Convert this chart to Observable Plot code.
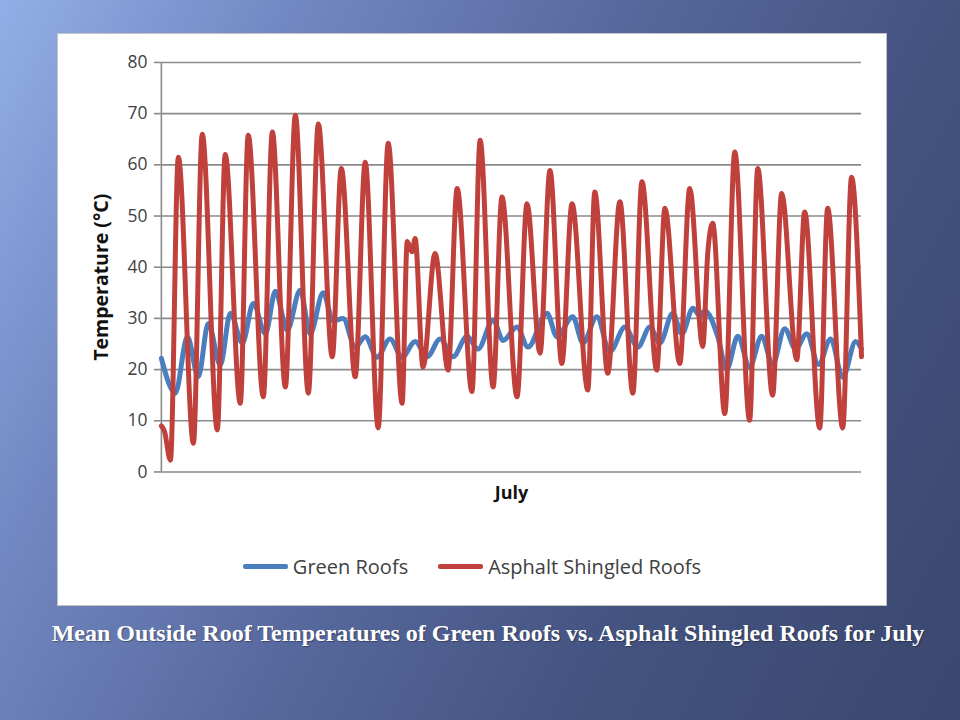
<!DOCTYPE html>
<html>
<head>
<meta charset="utf-8">
<script src="https://cdn.jsdelivr.net/npm/d3@7"></script>
<script src="https://cdn.jsdelivr.net/npm/@observablehq/plot@0.6"></script>
<style>
  html, body { margin: 0; padding: 0; }
  body {
    width: 960px; height: 720px; overflow: hidden; position: relative;
    background: linear-gradient(118deg, #93aee6 0%, #7288c2 22%, #56679c 48%, #43527f 72%, #3a476f 100%);
    font-family: "Open Sans", "Liberation Sans", sans-serif;
  }
  #box {
    position: absolute; left: 57px; top: 33px; width: 828px; height: 571px;
    background: #ffffff; border: 1px solid #c4c4c4;
  }
  #chart { position: absolute; left: -1px; top: -1px; }
  #legend {
    position: absolute; left: 0; top: 518px; width: 828px; height: 28px;
    display: flex; justify-content: center; align-items: center;
    font-family: "Open Sans", sans-serif; font-size: 20px; color: #404040;
  }
  .item { display: flex; align-items: center; margin: 0 15px; }
  .sw { width: 45px; height: 5px; border-radius: 2px; margin-right: 5px; }
  #caption {
    position: absolute; left: 0; top: 620px; width: 976px; text-align: center;
    font-family: "Liberation Serif", "Times New Roman", serif; font-weight: bold;
    font-size: 24px; color: #ffffff; text-shadow: 1px 1px 1px rgba(0,0,0,0.35);
  }
</style>
</head>
<body>
<div id="box"><div id="chart"></div><div id="legend"></div></div>
<div id="caption"></div>
<script>
// ---- data (x in days since start of record, y in °C) ----
const yTicks = [0, 10, 20, 30, 40, 50, 60, 70, 80];
const xLabel = "July";
const yLabel = "Temperature (°C)";
const seriesNames = ["Green Roofs", "Asphalt Shingled Roofs"];
const seriesColors = ["#4a7ebf", "#c0403c"];
const captionText = "Mean Outside Roof Temperatures of Green Roofs vs. Asphalt Shingled Roofs for July";

const asphaltDay = [0.00, 0.13, 0.39, 0.73, 1.38, 1.76, 2.41, 2.75, 3.40, 3.74, 4.39, 4.78, 5.34, 5.77, 6.33, 6.76, 7.36, 7.75, 8.35, 8.78, 9.34, 9.77, 10.37, 10.59, 10.80, 10.93, 11.27, 11.79, 12.35, 12.74, 13.38, 13.73, 14.29, 14.67, 15.32, 15.75, 16.31, 16.74, 17.25, 17.69, 18.37, 18.67, 19.23, 19.75, 20.31, 20.70, 21.34, 21.69, 22.33, 22.76, 23.32, 23.54, 23.75, 24.27, 24.70, 25.34, 25.69, 26.33, 26.72, 27.37, 27.71, 28.36, 28.70, 29.35, 29.73, 30.16];
const asphaltTemp = [9, 8, 2.3, 61.5, 5.6, 66, 8.2, 62, 13.4, 65.8, 14.7, 66.4, 16.6, 69.7, 15.4, 68, 22.5, 59.3, 18.6, 60.5, 8.6, 64.2, 13.4, 45, 43, 45.6, 20.5, 42.7, 19.9, 55.4, 15.7, 64.8, 16.6, 53.7, 14.7, 52.4, 23.2, 58.9, 21.2, 52.4, 16, 54.7, 19.3, 52.8, 15.4, 56.7, 19.9, 51.5, 21.2, 55.4, 24.5, 43, 48.6, 11.4, 62.5, 10.1, 59.3, 15, 54.4, 21.9, 50.8, 8.6, 51.5, 8.6, 57.6, 22.5];

const greenDay = [0.00, 0.60, 1.12, 1.59, 2.02, 2.54, 2.97, 3.49, 3.96, 4.48, 4.91, 5.42, 5.98, 6.41, 6.97, 7.40, 7.83, 8.35, 8.78, 9.29, 9.85, 10.37, 10.93, 11.45, 12.01, 12.56, 13.17, 13.64, 14.29, 14.72, 15.32, 15.79, 16.61, 17.04, 17.72, 18.16, 18.76, 19.32, 19.97, 20.52, 21.05, 21.47, 22.03, 22.42, 22.90, 23.19, 23.41, 23.97, 24.35, 24.83, 25.34, 25.86, 26.33, 26.85, 27.32, 27.80, 28.31, 28.83, 29.35, 29.91, 30.16];
const greenTemp = [22.2, 15.4, 26.4, 18.6, 29, 20.9, 31, 25.2, 32.9, 27, 35.3, 27.7, 35.5, 27, 35, 29.5, 30, 24.4, 26.4, 22.4, 26, 22.4, 25.5, 22.5, 26, 22.5, 26.5, 24, 29.7, 25.7, 28.3, 24.4, 31, 26.4, 30.3, 25.2, 30.3, 23.5, 28.3, 24.4, 28.3, 25.2, 31, 27, 32, 30.5, 31.5, 26.4, 20, 26.5, 20.5, 26.5, 21, 28, 24, 27, 21, 26, 18.5, 25.5, 24];

// ---- build tables ----
const green = greenDay.map((d, i) => ({day: d, temp: greenTemp[i], series: seriesNames[0]}));
const asphalt = asphaltDay.map((d, i) => ({day: d, temp: asphaltTemp[i], series: seriesNames[1]}));

const axisGray = "#8a8a8a";
const chart = Plot.plot({
  width: 830,
  height: 521,
  marginLeft: 104,
  marginRight: 25,
  marginTop: 29,
  marginBottom: 82,
  style: {background: "transparent", fontFamily: "'Open Sans', sans-serif", fontSize: "17px", color: "#404040"},
  x: {domain: [0, 30.16], axis: null},
  y: {domain: [0, 80], ticks: yTicks},
  marks: [
    Plot.gridY(yTicks, {stroke: axisGray, strokeOpacity: 1, strokeWidth: 1.6}),
    Plot.ruleX([0], {y1: 0, y2: 80, stroke: axisGray, strokeWidth: 1.6}),
    Plot.axisY(yTicks, {tickSize: 7, tickPadding: 7, stroke: axisGray, strokeWidth: 1.6, label: null, fill: "#404040", fontSize: 17.5}),
    Plot.line(green, {x: "day", y: "temp", stroke: seriesColors[0], strokeWidth: 5, curve: "monotone-x", strokeLinejoin: "round"}),
    Plot.line(asphalt, {x: "day", y: "temp", stroke: seriesColors[1], strokeWidth: 5, curve: "monotone-x", strokeLinejoin: "round"}),
    Plot.text([yLabel], {frameAnchor: "left", textAnchor: "middle", rotate: -90, dx: -60, dy: 10, fontWeight: "bold", fontSize: 19.5, fill: "#111"}),
    Plot.text([xLabel], {frameAnchor: "bottom", dy: 27, fontWeight: "bold", fontSize: 18, fill: "#111"})
  ]
});
document.getElementById("chart").appendChild(chart);

// ---- legend ----
const legend = document.getElementById("legend");
seriesNames.forEach((name, i) => {
  const item = document.createElement("div");
  item.className = "item";
  const sw = document.createElement("div");
  sw.className = "sw";
  sw.style.background = seriesColors[i];
  const lab = document.createElement("span");
  lab.textContent = name;
  item.appendChild(sw); item.appendChild(lab);
  legend.appendChild(item);
});
document.getElementById("caption").textContent = captionText;
</script>
</body>
</html>
